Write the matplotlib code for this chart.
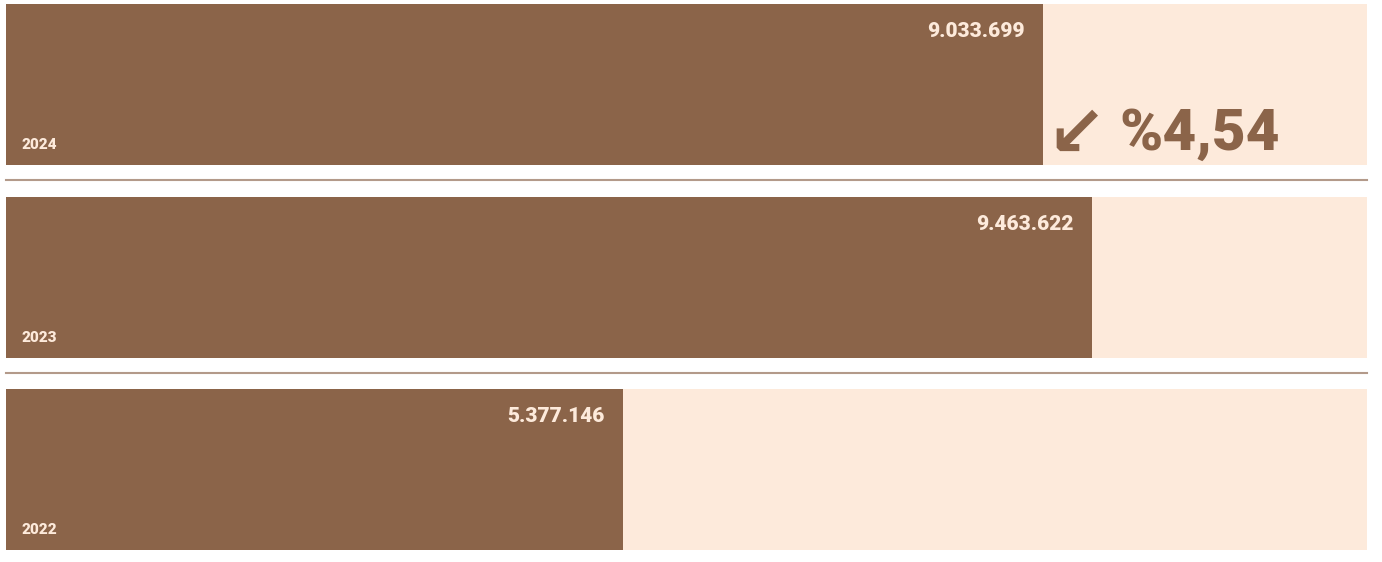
import matplotlib
matplotlib.use("Agg")
import matplotlib.pyplot as plt

years = ["2024", "2023", "2022"]
values = [9033699, 9463622, 5377146]
value_labels = ["9.033.699", "9.463.622", "5.377.146"]
change_arrow = "↙"
change_label = "%4,54"

BROWN = "#8B6449"
PEACH = "#FDEADB"
LINE = "#B39A8A"
TEXT_LIGHT = "#FDEADB"

W, H = 1382, 562
PT = 72 / 100  # points per pixel
fig = plt.figure(figsize=(W / 100, H / 100), dpi=100)
fig.patch.set_facecolor("white")

x0, x1 = 6, 1367
xmax = max(values) * (x1 - x0) / 1086.0
row_tops = [4, 197, 389]
row_h = 161
sep_y = [180, 373]

for i, (yr, v, lab) in enumerate(zip(years, values, value_labels)):
    top = row_tops[i]
    ax = fig.add_axes([x0 / W, (H - top - row_h) / H, (x1 - x0) / W, row_h / H])
    ax.set_xlim(0, xmax)
    ax.set_ylim(0, 1)
    ax.set_facecolor(PEACH)
    ax.barh([0.5], [v], height=1.0, color=BROWN, edgecolor="none")
    for s in ax.spines.values():
        s.set_visible(False)
    ax.set_xticks([])
    ax.set_yticks([])
    ax.text(16 / (x1 - x0), 0.099, yr, transform=ax.transAxes, ha="left", va="baseline",
            color=TEXT_LIGHT, fontsize=11, fontweight="heavy", family="Roboto")
    ax.annotate(lab, xy=(v, 0.795), xytext=(-13, 0), textcoords="offset points",
                ha="right", va="baseline", color=TEXT_LIGHT, fontsize=15,
                fontweight="heavy", family="Roboto")
    if i == 0:
        ax.annotate(change_arrow, xy=(v, 0.18), xytext=(4 * PT, 0), textcoords="offset points",
                    ha="left", va="center", color=BROWN, fontsize=51,
                    fontweight="bold", family="DejaVu Sans")
        ax.annotate(change_label, xy=(v, 0.093), xytext=(77 * PT, 0), textcoords="offset points",
                    ha="left", va="baseline", color=BROWN, fontsize=42,
                    fontweight="heavy", family="Roboto")

for y in sep_y:
    fig.add_artist(plt.Line2D([x0 / W, x1 / W], [(H - y) / H, (H - y) / H],
                              color=LINE, linewidth=1.5))

fig.savefig("out.png", dpi=100, facecolor="white")
